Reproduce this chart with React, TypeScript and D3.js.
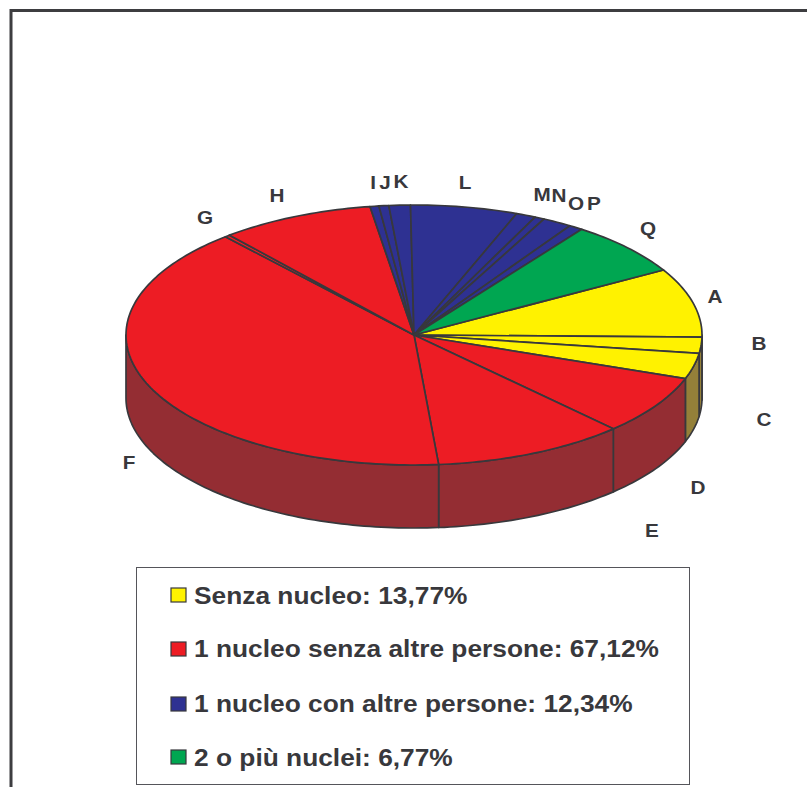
import React from "react";
import * as d3 from "d3";

const sliceNames = ["A","B","C","D","E","F","G","H","I","J","K","L","M","N","O","P","Q"];
const sliceValues = [8.6,2.0,3.17,7.4,10.8,40.0,0.3,8.62,0.5,0.55,1.2,6.0,1.1,0.55,1.65,0.79,6.77];
const sliceGroups = [0,0,0,1,1,1,1,1,2,2,2,2,2,2,2,2,3];
const legendLabels = ["Senza nucleo: 13,77%","1 nucleo senza altre persone: 67,12%","1 nucleo con altre persone: 12,34%","2 o più nuclei: 6,77%"];
const topColors = ["#FFF200","#ED1C24","#2E3192","#00A651"];
const wallColors = ["#948039","#942D33","#1c1f5c","#006a34"];
const labelX = [715,759,764,698,652,129,205,277,373,385,401,465,542,559,576,594,648];
const labelY = [303,350,426,494,537,469,224,202,189,189,188,189,201,202,210,210,235];
const legendSwatchY = [588,642,697,750];
const legendTextY = [604,657,712,766];

const cx = 414, cy = 335, rx = 288, ry = 130, depth = 63;
const ink = "#38383c";
const FONT = "'Liberation Sans', Arial, sans-serif";
const startAngle = (60 / 180) * Math.PI;
const stretch = 1.12;

const px = d3.scaleLinear().domain([-1, 1]).range([cx - rx, cx + rx]);
const py = d3.scaleLinear().domain([-1, 1]).range([cy - ry, cy + ry]);
const pt = (a: number, drop = 0): [number, number] => [px(Math.sin(a)), py(-Math.cos(a)) + drop];

const pie = d3.pie<number>().sort(null).startAngle(startAngle).endAngle(startAngle + 2 * Math.PI);
const arcs = pie(sliceValues);

const sample = (a0: number, a1: number, drop = 0) => {
  const n = Math.max(2, Math.ceil((a1 - a0) / 0.02));
  return d3.range(n + 1).map((i) => pt(a0 + ((a1 - a0) * i) / n, drop));
};
const line = d3.line();

const topPath = (a0: number, a1: number) =>
  (line([[cx, cy], ...sample(a0, a1)]) as string) + "Z";

const wallPath = (a0: number, a1: number) => {
  const lo = Math.max(a0, Math.PI / 2);
  const hi = Math.min(a1, (3 * Math.PI) / 2);
  if (hi <= lo) return null;
  return (line([...sample(lo, hi), ...sample(lo, hi, depth).reverse()]) as string) + "Z";
};

export default function App() {
  return (
    <svg width={807} height={787} style={{ position: "absolute", left: 0, top: 0, background: "#fff" }}>
      <path d="M11 787V10.500H807" fill="none" stroke="#3d3d40" strokeWidth={3} />
      {arcs.map((a, i) => {
        const d = wallPath(a.startAngle, a.endAngle);
        return d ? <path key={i} d={d} fill={wallColors[sliceGroups[i]]} stroke={ink} strokeWidth={1.7} strokeLinejoin="round" /> : null;
      })}
      {arcs.map((a, i) => (
        <path key={i} d={topPath(a.startAngle, a.endAngle)} fill={topColors[sliceGroups[i]]} stroke={ink} strokeWidth={1.7} strokeLinejoin="round" />
      ))}
      {sliceNames.map((n, i) => (
        <text key={n} transform={`translate(${labelX[i]},${labelY[i]}) scale(${stretch},1)`} textAnchor="middle" fontFamily={FONT} fontWeight="bold" fontSize={18.500} fill={ink}>{n}</text>
      ))}
      <rect x={136.500} y={567.500} width={553} height={217} fill="#fff" stroke="#55555a" strokeWidth={1} />
      {legendLabels.map((t, i) => (
        <g key={t}>
          <rect x={171} y={legendSwatchY[i]} width={15} height={14} fill={topColors[i]} stroke={ink} strokeWidth={1.2} />
          <text transform={`translate(194,${legendTextY[i]}) scale(${stretch},1)`} fontFamily={FONT} fontWeight="bold" fontSize={23.500} fill={ink}>{t}</text>
        </g>
      ))}
    </svg>
  );
}
